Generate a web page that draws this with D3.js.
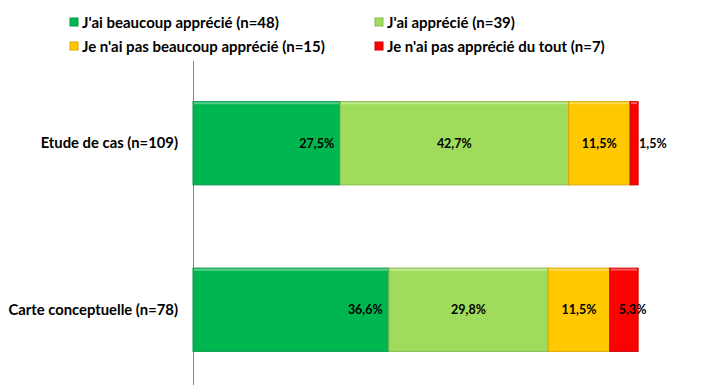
<!DOCTYPE html>
<html>
<head>
<meta charset="utf-8">
<script src="https://cdn.jsdelivr.net/npm/d3@7"></script>
<style>
  body { margin: 0; background: #fff; }
  text { font-family: Lato, "Open Sans", sans-serif; font-weight: bold; fill: #000; }
</style>
</head>
<body>
<div id="chart"></div>
<script>
// data
var categories = ["Etude de cas (n=109)", "Carte conceptuelle (n=78)"];
var seriesNames = ["J'ai beaucoup apprécié (n=48)", "J'ai apprécié (n=39)",
                   "Je n'ai pas beaucoup apprécié (n=15)", "Je n'ai pas apprécié du tout (n=7)"];
var beaucoup = [27.5, 36.6];
var apprecie = [42.7, 29.8];
var pasBeaucoup = [11.5, 11.5];
var pasDuTout = [1.5, 5.3];

var colors = ["#00B650", "#A0DC5C", "#FFC800", "#FF0000"];
var strokes = ["#05994a", "#86bb4c", "#d9a800", "#c80000"];

var width = 721, height = 385;
var svg = d3.select("#chart").append("svg")
    .attr("width", width).attr("height", height);

var values = [beaucoup, apprecie, pasBeaucoup, pasDuTout];
// build stacked rows
var rows = categories.map(function(c, i) {
    var r = {cat: c};
    seriesNames.forEach(function(s, j) { r[s] = values[j][i]; });
    return r;
});
var stacked = d3.stack().keys(seriesNames)(rows);

var x = d3.scaleLinear().domain([0, 100]).range([193, 728]);
var y = d3.scaleBand().domain(categories).range([60, 393]).paddingInner(0.5).paddingOuter(0.25);

// axis line
svg.append("line")
    .attr("x1", 193.5).attr("x2", 193.5)
    .attr("y1", 61).attr("y2", height)
    .attr("stroke", "#868686");

var groups = svg.selectAll("g.series")
    .data(stacked).enter()
    .append("g").attr("class", "series");

groups.selectAll("rect")
    .data(function(d) { return d; })
    .enter().append("rect")
    .attr("x", function(d) { return x(d[0]); })
    .attr("y", function(d) { return y(d.data.cat); })
    .attr("width", function(d) { return x(d[1]) - x(d[0]); })
    .attr("height", y.bandwidth())
    .attr("fill", function(d, i, n) { return colors[d3.select(n[i].parentNode).datum().index]; })
    .attr("stroke", function(d, i, n) { return strokes[d3.select(n[i].parentNode).datum().index]; })
    .attr("stroke-width", 1);

// light top bevel
groups.selectAll("line.bevel")
    .data(function(d) { return d; })
    .enter().append("line").attr("class", "bevel")
    .attr("x1", function(d) { return x(d[0]) + 1; })
    .attr("x2", function(d) { return x(d[1]) - 1; })
    .attr("y1", function(d) { return y(d.data.cat) + 1.5; })
    .attr("y2", function(d) { return y(d.data.cat) + 1.5; })
    .attr("stroke", "#ffffff").attr("stroke-opacity", 0.35).attr("stroke-width", 2);

// value labels
var fmt = function(v) { return v.toFixed(1).replace(".", ",") + "%"; };
groups.selectAll("text")
    .data(function(d) { return d.map(function(p) { return {p: p, k: d.index}; }); })
    .enter().append("text")
    .attr("x", function(d) {
        if (d.k === 0) return x(d.p[1]) - 6;
        if (d.k === 3) return x(d.p[0]) + 9;
        return (x(d.p[0]) + x(d.p[1])) / 2;
    })
    .attr("y", function(d) { return y(d.p.data.cat) + y.bandwidth() / 2 + 4.5; })
    .attr("text-anchor", function(d) { return d.k === 0 ? "end" : (d.k === 3 ? "start" : "middle"); })
    .style("font-size", "12.5px")
    .text(function(d) { return fmt(d.p[1] - d.p[0]); });

// category labels
svg.selectAll("text.cat")
    .data(categories).enter()
    .append("text").attr("class", "cat")
    .attr("x", 178)
    .attr("y", function(d) { return y(d) + y.bandwidth() / 2 + 5; })
    .attr("text-anchor", "end")
    .style("font-size", "14.8px")
    .text(function(d) { return d; });

// legend
var legPos = [[70, 22], [375, 22], [70, 46], [375, 46]];
var leg = svg.selectAll("g.leg")
    .data(seriesNames).enter()
    .append("g").attr("class", "leg")
    .attr("transform", function(d, i) { return "translate(" + legPos[i][0] + "," + legPos[i][1] + ")"; });
leg.append("rect")
    .attr("x", 0).attr("y", -4).attr("width", 8).attr("height", 8)
    .attr("fill", function(d, i) { return colors[i]; })
    .attr("stroke", function(d, i) { return strokes[i]; });
leg.append("text")
    .attr("x", 12).attr("y", 5.5)
    .style("font-size", "15px")
    .text(function(d) { return d; });
</script>
</body>
</html>
